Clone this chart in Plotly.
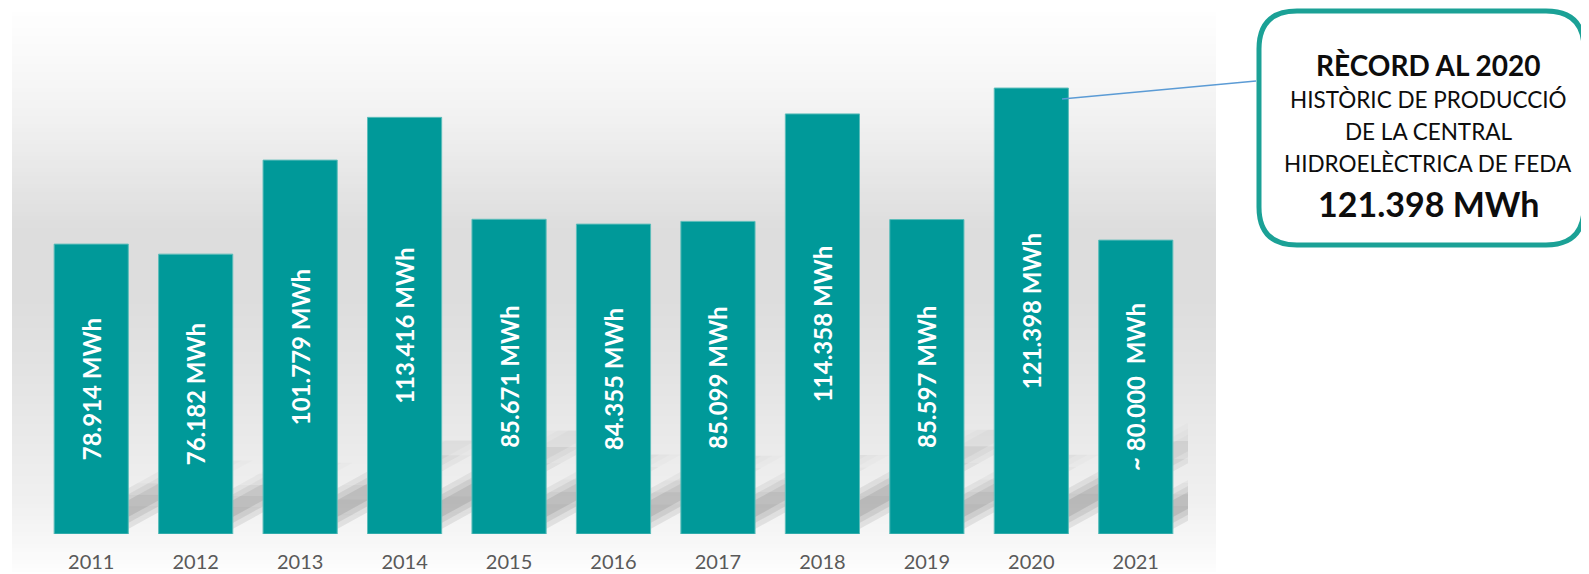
import plotly.graph_objects as go

# production per year (thousands of MWh)
years = ['2011', '2012', '2013', '2014', '2015', '2016', '2017', '2018', '2019', '2020', '2021']
values = [78.914, 76.182, 101.779, 113.416, 85.671, 84.355, 85.099, 114.358, 85.597, 121.398, 80.0]
labels = ['78.914 MWh', '76.182 MWh', '101.779 MWh', '113.416 MWh', '85.671 MWh', '84.355 MWh',
          '85.099 MWh', '114.358 MWh', '85.597 MWh', '121.398 MWh', '~ 80.000  MWh']

box_lines = ['RÈCORD AL 2020', 'HISTÒRIC DE PRODUCCIÓ', 'DE LA CENTRAL',
             'HIDROELÈCTRICA DE FEDA', '121.398 MWh']

TEAL = '#009999'

# plot area as it should appear on screen (page has an 8px body margin)
PAGE_OFF = 8
L, T, W, H = 39, 12, 1149, 522
FIG_W, FIG_H = 1589, 574
YMAX = 142.1


def pp(x, y):
    # screen pixel -> paper
    return (x - L) / W, (T + H - y) / H


shapes = []

# background gradient (chart area)
stops = [(12, 254), (60, 249), (120, 241), (180, 230), (230, 221), (300, 221),
         (380, 228), (450, 235), (500, 240), (534, 246), (572, 253)]


def grey_at(y):
    for (y0, g0), (y1, g1) in zip(stops, stops[1:]):
        if y0 <= y <= y1:
            return g0 + (g1 - g0) * (y - y0) / (y1 - y0)
    return stops[-1][1]


step = 4
for y in range(12, 572, step):
    g = int(round(grey_at(y + step / 2)))
    x0, y0 = pp(12, y)
    x1, y1 = pp(1216, y + step)
    shapes.append(dict(type='rect', xref='paper', yref='paper', x0=x0, x1=x1, y0=y1, y1=y0,
                       fillcolor=f'rgb({g},{g},{g})', line_width=0, layer='below'))

# perspective shadows cast up-right behind each bar, fading with distance
px_x = W / 11.0          # px per category
px_y = H / YMAX          # px per value unit
slope = 0.55             # rise / run in pixels
half = 0.355
lift = 5 / px_y
fade = [1.0, 1.0, 0.9, 0.7, 0.45, 0.2]
nseg = len(fade)
for i, v in enumerate(values):
    run_px = 0.43 * v * px_y
    dx = run_px / px_x
    dy = run_px * slope / px_y
    for s, op in [(0, 0.08), (6, 0.08), (12, 0.09)]:
        ins = s / slope / px_x
        a, b = i - half + ins, i + half - ins
        for k in range(nseg):
            t0, t1 = k / nseg, (k + 1) / nseg
            path = (f'M {a + dx * t0} {dy * t0 + lift} L {b + dx * t0} {dy * t0 + lift} '
                    f'L {b + dx * t1} {dy * t1 + lift} L {a + dx * t1} {dy * t1 + lift} Z')
            shapes.append(dict(type='path', xref='x', yref='y', path=path,
                               fillcolor=f'rgba(0,0,0,{op * fade[k]:.4f})', line_width=0,
                               layer='below'))

# connector line from 2020 bar to callout
ax0, ay0 = pp(1062, 99)
ax1, ay1 = pp(1256, 81)
shapes.append(dict(type='line', xref='paper', yref='paper', x0=ax0, y0=ay0, x1=ax1, y1=ay1,
                   line=dict(color='#5b9bd5', width=1.3)))

# rounded callout box
bl, br, bt, bb, r = 1259, 1584, 11, 245, 38
pts = [('M', bl + r, bt), ('L', br - r, bt), ('Q', br, bt, br, bt + r), ('L', br, bb - r),
       ('Q', br, bb, br - r, bb), ('L', bl + r, bb), ('Q', bl, bb, bl, bb - r),
       ('L', bl, bt + r), ('Q', bl, bt, bl + r, bt)]
path = ''
for p in pts:
    cmd, coords = p[0], p[1:]
    xy = []
    for k in range(0, len(coords), 2):
        px, py = pp(coords[k], coords[k + 1])
        xy.append(f'{px:.5f},{py:.5f}')
    path += cmd + ' ' + ' '.join(xy) + ' '
path += 'Z'
shapes.append(dict(type='path', xref='paper', yref='paper', path=path,
                   fillcolor='white', line=dict(color='#1ba196', width=5)))

annotations = []
line_y = [65, 100, 131, 163, 203]
line_font = [dict(size=28, weight='bold'), dict(size=22.5), dict(size=22.5), dict(size=22.5),
             dict(size=34, weight='bold')]
for txt, y, f in zip(box_lines, line_y, line_font):
    ax, ay = pp(1428, y)
    annotations.append(dict(xref='paper', yref='paper', x=ax, y=ay, text=txt, showarrow=False,
                            xanchor='center', yanchor='middle',
                            font=dict(family='Lato', color='#0d0d0d', **f)))

fig = go.Figure(go.Bar(
    x=years, y=values, text=labels,
    marker=dict(color=TEAL, line=dict(color='#5cbdba', width=1)),
    textposition='inside', insidetextanchor='middle', textangle=-90,
    constraintext='none',
    textfont=dict(family='Lato', size=24, color='white', weight='bold'),
    hoverinfo='skip',
))

fig.update_layout(
    width=FIG_W, height=FIG_H,
    margin=dict(l=L - PAGE_OFF, r=FIG_W - (L - PAGE_OFF) - W, t=T - PAGE_OFF,
                b=FIG_H - (T - PAGE_OFF) - H),
    paper_bgcolor='white', plot_bgcolor='rgba(0,0,0,0)',
    bargap=0.29, showlegend=False,
    uniformtext=dict(minsize=24, mode='show'),
    shapes=shapes, annotations=annotations,
    xaxis=dict(range=[-0.5, 10.5], showgrid=False, zeroline=False, showline=False,
               ticks='outside', ticklen=10, tickcolor='rgba(0,0,0,0)',
               tickfont=dict(family='Lato', size=20, color='#595959')),
    yaxis=dict(range=[0, YMAX], visible=False, showgrid=False),
)

fig.write_html('out.html')
